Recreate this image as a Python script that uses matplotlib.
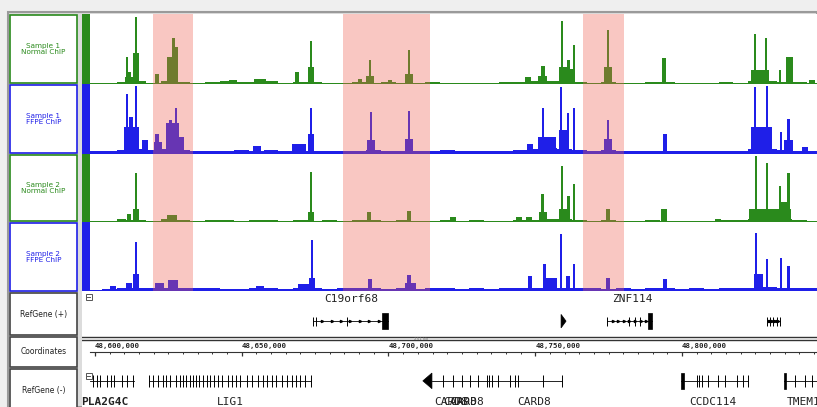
import matplotlib.pyplot as plt
from matplotlib.patches import Rectangle, Polygon

W, H = 817, 407

# genomic window in kb (chr19), left edge of data panel to right edge
view_start = 48595.57
view_end = 48846.0
bar_end = 48598.3          # end of the coloured track handle

highlights = [(48619.8, 48633.4), (48684.5, 48714.1), (48766.3, 48780.2)]

# background coverage, 5 kb bins starting at 48,600 kb
bg_bins = [48600 + 5 * i for i in range(50)]
s1_normal_bg = [2, 1, 3, 4, 2, 4, 3, 2, 3, 4, 3, 3, 4, 2, 3, 3, 2, 2, 3, 2,
                3, 2, 2, 3, 2, 2, 2, 1, 3, 3, 4, 5, 4, 3, 2, 3, 2, 2, 3, 3,
                2, 2, 2, 3, 2, 4, 4, 3, 3, 2]
s1_ffpe_bg = [5, 4, 6, 8, 6, 8, 6, 5, 4, 5, 6, 5, 6, 4, 5, 5, 4, 5, 5, 6,
              5, 5, 4, 5, 6, 5, 4, 5, 5, 6, 7, 9, 8, 6, 5, 6, 5, 4, 5, 4,
              5, 5, 4, 5, 5, 7, 8, 6, 5, 4]
s2_normal_bg = [2, 2, 3, 3, 2, 4, 3, 2, 3, 3, 2, 3, 3, 2, 3, 2, 3, 2, 3, 3,
                2, 3, 2, 2, 3, 2, 3, 2, 2, 3, 3, 5, 4, 3, 2, 3, 2, 2, 3, 2,
                2, 2, 2, 3, 3, 4, 5, 4, 3, 2]
s2_ffpe_bg = [2, 3, 4, 5, 4, 5, 5, 4, 4, 3, 3, 4, 4, 3, 4, 4, 3, 4, 4, 4,
              3, 4, 3, 4, 4, 3, 4, 3, 5, 4, 4, 6, 5, 4, 4, 3, 4, 3, 4, 4,
              3, 4, 3, 4, 4, 5, 6, 5, 4, 4]

# enriched regions: (position kb, coverage 0-100, width kb)
s1_normal_peaks = [
    (48612.6, 10, 5.0), (48610.9, 39, 0.8), (48611.5, 18, 1.5), (48614.0, 98, 0.8),
    (48614.0, 45, 1.8), (48621.1, 15, 1.2), (48626.4, 40, 4.0), (48626.6, 68, 1.0),
    (48627.6, 55, 1.2), (48625.2, 30, 1.5), (48647.0, 6, 3.0), (48656.2, 8, 4.0),
    (48668.8, 17, 1.2), (48673.6, 64, 0.9), (48673.6, 25, 2.0), (48690.3, 8, 1.5),
    (48693.7, 35, 0.9), (48693.7, 12, 2.5), (48700.5, 6, 1.5), (48707.0, 50, 0.9),
    (48707.0, 15, 3.0), (48747.5, 10, 2.0), (48752.6, 27, 1.2), (48752.6, 12, 3.0),
    (48759.1, 92, 0.8), (48759.5, 25, 2.5), (48761.3, 36, 0.8), (48763.2, 58, 0.8),
    (48762.5, 22, 2.0), (48774.8, 79, 1.0), (48774.8, 25, 2.5), (48793.9, 38, 1.6),
    (48824.9, 73, 0.9), (48826.5, 20, 6.0), (48828.6, 67, 0.9), (48833.4, 21, 1.0),
    (48836.6, 39, 2.2), (48844.3, 6, 2.0),
]
s1_ffpe_peaks = [
    (48612.5, 40, 5.0), (48610.9, 88, 0.8), (48614.0, 100, 0.8), (48612.3, 55, 1.2),
    (48617.0, 20, 2.0), (48621.1, 30, 1.2), (48621.5, 18, 2.5), (48626.5, 45, 4.5),
    (48625.6, 50, 1.0), (48627.6, 68, 1.0), (48629.5, 25, 1.5), (48655.2, 12, 3.0),
    (48669.5, 15, 5.0), (48673.6, 68, 0.9), (48673.6, 30, 2.0), (48694.0, 62, 0.9),
    (48694.0, 20, 2.5), (48707.0, 64, 0.9), (48707.0, 22, 2.5), (48748.2, 15, 2.0),
    (48752.6, 68, 0.9), (48754.0, 25, 6.0), (48758.8, 98, 0.8), (48759.5, 35, 3.0),
    (48761.2, 60, 0.8), (48763.2, 68, 0.8), (48774.8, 50, 1.0), (48774.8, 22, 3.0),
    (48794.2, 30, 1.2), (48824.9, 98, 0.8), (48827.0, 40, 7.0), (48829.0, 100, 0.8),
    (48833.7, 33, 0.9), (48836.4, 52, 1.0), (48836.4, 20, 3.0), (48842.0, 10, 2.0),
]
s2_normal_peaks = [
    (48611.6, 12, 1.2), (48614.0, 74, 0.8), (48614.0, 20, 1.8), (48609.0, 5, 3.0),
    (48626.2, 10, 3.5), (48673.6, 75, 0.9), (48673.6, 15, 2.0), (48693.3, 15, 1.2),
    (48707.0, 17, 1.5), (48722.0, 8, 2.0), (48744.5, 7, 2.0), (48747.9, 8, 2.0),
    (48752.6, 43, 1.0), (48752.6, 15, 2.5), (48759.1, 85, 0.8), (48759.5, 20, 2.5),
    (48761.3, 40, 0.8), (48761.5, 15, 1.0), (48763.2, 58, 0.8), (48774.8, 20, 1.5),
    (48793.9, 20, 2.0), (48812.3, 5, 2.0), (48825.2, 100, 0.9), (48830.0, 20, 14.0),
    (48829.0, 89, 0.9), (48833.4, 55, 0.9), (48836.4, 74, 1.0), (48835.0, 30, 3.0),
]
s2_ffpe_peaks = [
    (48606.1, 7, 2.0), (48611.6, 12, 2.0), (48614.0, 73, 0.9), (48614.0, 25, 1.8),
    (48622.0, 12, 3.0), (48626.5, 16, 3.5), (48656.2, 8, 3.0), (48673.9, 76, 0.9),
    (48673.9, 20, 2.0), (48671.0, 10, 4.0), (48693.7, 18, 1.5), (48707.0, 24, 1.5),
    (48707.5, 12, 4.0), (48748.2, 23, 1.2), (48753.0, 40, 1.0), (48755.0, 20, 5.0),
    (48758.8, 85, 0.8), (48761.2, 22, 1.5), (48763.2, 40, 0.9), (48774.8, 20, 1.5),
    (48794.2, 18, 1.5), (48825.2, 86, 0.9), (48826.0, 25, 3.0), (48829.0, 48, 0.9),
    (48833.7, 50, 0.9), (48836.4, 38, 1.0),
]

track_labels = ["Sample 1\nNormal ChIP", "Sample 1\nFFPE ChIP",
                "Sample 2\nNormal ChIP", "Sample 2\nFFPE ChIP"]
track_bg = [s1_normal_bg, s1_ffpe_bg, s2_normal_bg, s2_ffpe_bg]
track_peaks = [s1_normal_peaks, s1_ffpe_peaks, s2_normal_peaks, s2_ffpe_peaks]

# RefGene (+): name, start, end, exon ticks, thick exons, label position
genes_plus = [
    ("C19orf68", 48674.3, 48699.8, [48674.3, 48675.3, 48685.9], [(48697.8, 48699.8)], 48687.2),
    ("ZNF114", 48774.4, 48789.8, [48774.4, 48781.9, 48783.9, 48785.7], [(48788.4, 48789.8)], 48783.0),
    ("", 48829.0, 48833.4, [48829.0, 48830.0, 48831.0, 48832.4, 48833.4], [], None),
]
plus_arrow_genes = [(48758.8, 48760.5)]

# RefGene (-)
genes_minus = [
    ("PLA2G4C", 48598.3, 48613.4,
     [48599.3, 48600.7, 48601.7, 48604.1, 48605.5, 48606.5, 48609.2, 48610.9, 48612.9], [], 48595.2),
    ("LIG1", 48618.4, 48673.6,
     [48618.4, 48619.8, 48621.5, 48623.2, 48624.2, 48625.6, 48627.6, 48629.0, 48630.0,
      48631.0, 48632.4, 48633.4, 48634.4, 48635.4, 48636.8, 48638.2, 48639.2, 48640.5,
      48641.9, 48643.3, 48645.3, 48646.7, 48648.0, 48649.4, 48651.8, 48653.5, 48655.5,
      48657.2, 48658.6, 48660.3, 48661.7, 48663.7, 48665.4, 48667.1, 48668.5, 48669.8,
      48671.5, 48673.6], [], 48646.0),
    ("CARD8", 48714.8, 48759.1,
     [48718.6, 48722.0, 48725.0, 48727.8, 48730.5, 48733.6, 48734.2, 48735.3, 48737.3,
      48741.4, 48743.1, 48744.1, 48752.6, 48759.1], [], 48749.6),
    ("CCDC114", 48799.6, 48822.5,
     [48805.1, 48805.8, 48806.8, 48808.9, 48812.3, 48814.7, 48818.7, 48820.8, 48822.5],
     [(48799.6, 48800.7)], 48810.5),
    ("TMEM143", 48834.7, 48846.0, [48838.5, 48841.9, 48844.3], [(48834.7, 48835.4)], 48835.8),
]
minus_arrow_genes = [(48711.7, 48714.8)]
card8_isoform_labels = [48715.6, 48718.6, 48721.0]

coord_major = [48600, 48650, 48700, 48750, 48800]
coord_minor = [48600 + 5 * i for i in range(50)]

GREEN = "#2a8a1c"
BLUE = "#1f1fe8"
PINK = "#f06050"


def px_axes(fig, x0, y0, x1, y1):
    ax = fig.add_axes([x0 / W, 1 - y1 / H, (x1 - x0) / W, (y1 - y0) / H])
    ax.set_axis_off()
    return ax


fig = plt.figure(figsize=(W / 100, H / 100), dpi=100)
fig.patch.set_facecolor("#efefef")

# page furniture in pixel coordinates
base = px_axes(fig, 0, 0, W, H)
base.set_xlim(0, W)
base.set_ylim(H, 0)
base.add_patch(Rectangle((8, 12), W - 8, H - 12, fc="#dcdcdc", ec="#9a9a9a", lw=1.5))
base.add_patch(Rectangle((82, 14), W - 82, H - 14, fc="white", ec="none"))

box_rows = [(15, 83), (85, 153), (155, 221), (223, 291)]
box_cols = [GREEN, BLUE, GREEN, BLUE]
for (y0, y1), c, lab in zip(box_rows, box_cols, track_labels):
    base.add_patch(Rectangle((10, y0), 67, y1 - y0, fc="white", ec=c, lw=1.2))
    base.text(43.5, (y0 + y1) / 2, lab, color=c, fontsize=5.2, ha="center",
              va="center", linespacing=1.05)

for (y0, y1), lab in zip([(293, 335), (337, 367), (369, 410)],
                         ["RefGene (+)", "Coordinates", "RefGene (-)"]):
    base.add_patch(Rectangle((10, y0), 67, y1 - y0, fc="white", ec="#444444", lw=1.2))
    base.text(43.5, (y0 + min(y1, 407)) / 2 + (2 if y1 > 407 else 0), lab,
              color="#222222", fontsize=5.5, ha="center", va="center")

# signal tracks
sig_rows = [(14, 84), (84, 154), (154, 222), (222, 291)]
for (y0, y1), c, bg, peaks in zip(sig_rows, box_cols, track_bg, track_peaks):
    ax = px_axes(fig, 82, y0, W, y1)
    ax.set_xlim(view_start, view_end)
    ax.set_ylim(0, 103)
    ax.bar(bg_bins, bg, width=5, color=c, linewidth=0)
    ax.bar([p[0] for p in peaks], [p[1] for p in peaks], width=[p[2] for p in peaks],
           color=c, linewidth=0)
    for s, e in highlights:
        ax.axvspan(s, e, color=PINK, alpha=0.35, lw=0, zorder=5)
    ax.axvspan(view_start, bar_end, color=c, lw=0, zorder=6)

# RefGene (+)
axp = px_axes(fig, 82, 291, W, 336)
axp.set_xlim(view_start, view_end)
axp.set_ylim(0, 1)
yl = 0.33
for name, s, e, ticks, thick, lx in genes_plus:
    axp.plot([s, e], [yl, yl], color="black", lw=0.6)
    axp.plot([s + (e - s) * k / 8 for k in range(1, 8)], [yl] * 7, ls="none",
             marker=">", ms=1.6, color="black")
    axp.vlines(ticks, yl - 0.1, yl + 0.1, color="black", lw=0.7)
    for a, b in thick:
        axp.add_patch(Rectangle((a, yl - 0.17), b - a, 0.34, fc="black", ec="black", lw=0.5))
    if name:
        axp.text(lx, 0.82, name, fontsize=8, family="DejaVu Sans Mono",
                 ha="center", va="center", color="#222222")
for a, b in plus_arrow_genes:
    axp.add_patch(Polygon([(a, yl - 0.15), (a, yl + 0.15), (b, yl)], closed=True,
                          fc="black", ec="black", lw=0.5))

# Coordinates
axc = px_axes(fig, 82, 336, W, 368)
axc.set_xlim(view_start, view_end)
axc.set_ylim(0, 1)
axc.axhline(0.97, color="#333333", lw=1.0)
axc.axhline(0.87, color="#333333", lw=1.0)
axc.axhline(0.5, xmin=(bar_end - view_start) / (view_end - view_start), color="#333333", lw=0.8)
axc.vlines(coord_minor, 0.43, 0.5, color="#333333", lw=0.7)
axc.vlines(coord_major, 0.36, 0.5, color="#333333", lw=0.9)
for m in coord_major:
    axc.text(m, 0.68, f"{m * 1000:,}", fontsize=5.3, fontweight="bold",
             family="DejaVu Sans Mono", ha="left", va="center", color="#222222")
axc.text(48711.0, 0.92, "251 kb", fontsize=3, color="#777777", ha="center", va="center")

# RefGene (-)
axm = px_axes(fig, 82, 368, W, 407)
axm.set_xlim(view_start, view_end)
axm.set_ylim(0, 1)
yl = 0.67
for name, s, e, ticks, thick, lx in genes_minus:
    axm.plot([s, e], [yl, yl], color="black", lw=0.6)
    axm.vlines(ticks, yl - 0.16, yl + 0.16, color="black", lw=0.7)
    for a, b in thick:
        axm.add_patch(Rectangle((a, yl - 0.2), b - a, 0.4, fc="black", ec="black", lw=0.5))
    bold = "bold" if name == "PLA2G4C" else "normal"
    ha = "left" if name in ("PLA2G4C", "TMEM143") else "center"
    axm.text(lx, 0.13, name, fontsize=8, family="DejaVu Sans Mono", fontweight=bold,
             ha=ha, va="center", color="#222222", clip_on=True)
for a, b in minus_arrow_genes:
    axm.add_patch(Polygon([(b, yl - 0.2), (b, yl + 0.2), (a, yl)], closed=True,
                          fc="black", ec="black", lw=0.5))
for lx in card8_isoform_labels:
    axm.text(lx, 0.13, "CARD8", fontsize=8, family="DejaVu Sans Mono",
             ha="left", va="center", color="#222222")

# collapse icons
for y in (294, 373):
    base.add_patch(Rectangle((86, y), 6, 6, fc="white", ec="#555555", lw=0.7, zorder=10))
    base.plot([87.5, 90.5], [y + 3, y + 3], color="#555555", lw=0.7, zorder=11)

fig.savefig("out.png", dpi=100, facecolor=fig.get_facecolor())
